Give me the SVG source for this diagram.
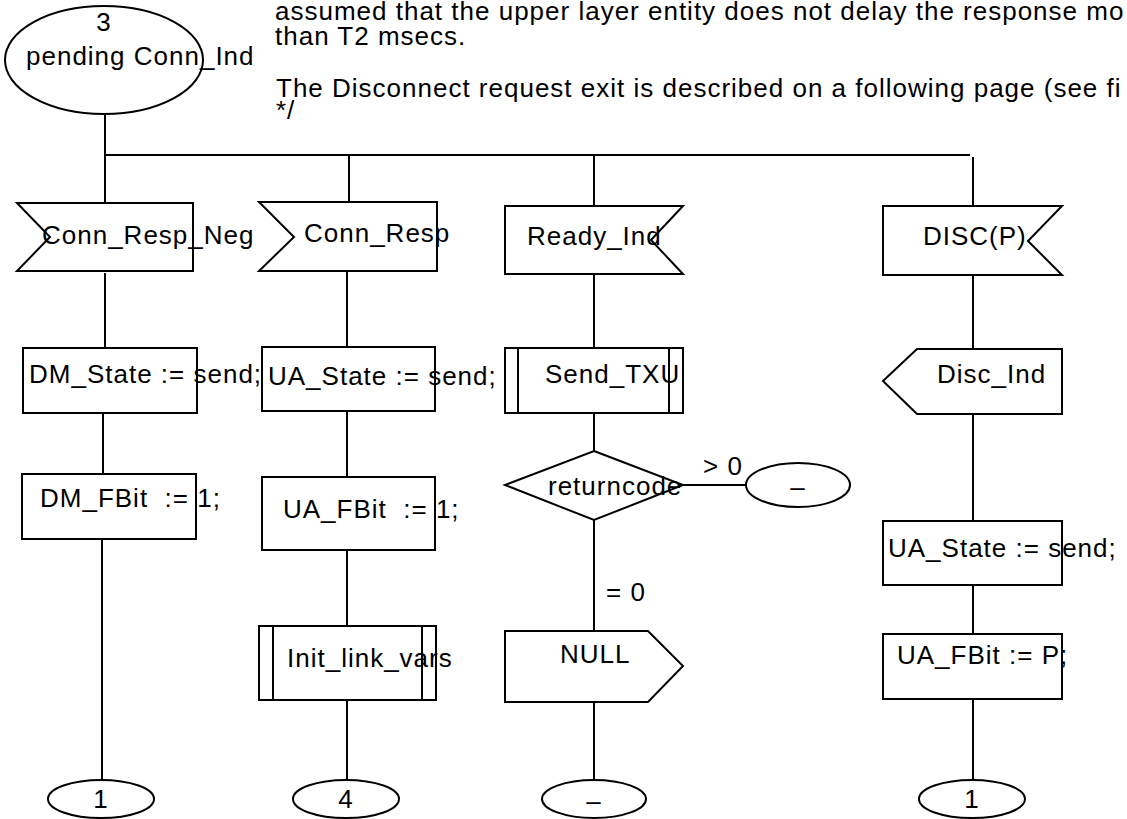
<svg xmlns="http://www.w3.org/2000/svg" width="1127" height="819" viewBox="0 0 1127 819">
<style>
.s{fill:#fff;stroke:#000;stroke-width:2}
.c{fill:none;stroke:#000;stroke-width:2}
text{font-family:"Liberation Sans",Arial,sans-serif;font-size:26px;letter-spacing:1px;fill:#000;white-space:pre}
.m{text-anchor:middle}
</style>
<rect width="1127" height="819" fill="#fff"/>
<g id="comment">
<text x="275" y="20">assumed that the upper layer entity does not delay the response mo</text>
<text x="275" y="45">than T2 msecs.</text>
<text x="276" y="97">The Disconnect request exit is described on a following page (see fi</text>
<text x="276" y="119">*/</text>
</g>
<g id="connectors" class="c">
<path d="M105,114 V203"/>
<path d="M105,155 H970"/>
<path d="M349,155 V202"/>
<path d="M594,155 V206"/>
<path d="M973,157 V206"/>
<path d="M105,273 V348"/>
<path d="M103,413 V474"/>
<path d="M102,539 V780"/>
<path d="M347,271 V347"/>
<path d="M347,411 V477"/>
<path d="M347,550 V626"/>
<path d="M347,700 V780"/>
<path d="M594,274 V348"/>
<path d="M594,413 V451"/>
<path d="M683,485 H746"/>
<path d="M594,520 V631"/>
<path d="M594,702 V780"/>
<path d="M973,275 V349"/>
<path d="M973,414 V521"/>
<path d="M973,585 V634"/>
<path d="M973,699 V780"/>
</g>
<g id="state3">
<ellipse class="s" cx="104" cy="60" rx="99" ry="54"/>
<text class="m" x="104" y="31">3</text>
<text x="26" y="65">pending Conn_Ind</text>
</g>
<g id="in_conn_resp_neg">
<polygon class="s" points="17,203 193,203 193,271 17,271 50,237"/>
<text x="42" y="244">Conn_Resp_Neg</text>
</g>
<g id="in_conn_resp">
<polygon class="s" points="259,202 437,202 437,271 259,271 294,237"/>
<text x="304" y="242">Conn_Resp</text>
</g>
<g id="in_ready_ind">
<polygon class="s" points="505,206 683,206 651,240 683,274 505,274"/>
<text x="527" y="245">Ready_Ind</text>
</g>
<g id="in_disc">
<polygon class="s" points="883,206 1062,206 1028,241 1062,275 883,275"/>
<text x="923" y="245">DISC(P)</text>
</g>
<g id="task_dm_state">
<rect class="s" x="23" y="348" width="174" height="65"/>
<text x="29" y="383">DM_State := send;</text>
</g>
<g id="task_dm_fbit">
<rect class="s" x="22" y="474" width="174" height="65"/>
<text x="40" y="507" xml:space="preserve">DM_FBit  := 1;</text>
</g>
<g id="task_ua_state">
<rect class="s" x="262" y="347" width="173" height="64"/>
<text x="268" y="385">UA_State := send;</text>
</g>
<g id="task_ua_fbit">
<rect class="s" x="262" y="477" width="173" height="73"/>
<text x="283" y="518" xml:space="preserve">UA_FBit  := 1;</text>
</g>
<g id="proc_init_link_vars">
<rect class="s" x="259" y="626" width="177" height="74"/>
<path class="c" d="M273,626 V700 M422,626 V700"/>
<text x="287" y="667">Init_link_vars</text>
</g>
<g id="proc_send_txu">
<rect class="s" x="505" y="348" width="178" height="65"/>
<path class="c" d="M518,348 V413 M669,348 V413"/>
<text x="545" y="383">Send_TXU</text>
</g>
<g id="dec_returncode">
<polygon class="s" points="594,451 683,485 594,520 505,485"/>
<text x="548" y="495">returncode</text>
</g>
<g id="labels">
<text x="703" y="475">&gt; 0</text>
<text x="606" y="601">= 0</text>
</g>
<g id="next_minus_right">
<ellipse class="s" cx="798" cy="485" rx="52" ry="22"/>
<text class="m" x="798" y="496">–</text>
</g>
<g id="out_null">
<polygon class="s" points="505,631 648,631 683,666 648,702 505,702"/>
<text x="560" y="663">NULL</text>
</g>
<g id="out_disc_ind">
<polygon class="s" points="883,381 917,349 1062,349 1062,414 917,414"/>
<text x="937" y="383">Disc_Ind</text>
</g>
<g id="task_ua_state2">
<rect class="s" x="883" y="521" width="179" height="64"/>
<text x="888" y="557">UA_State := send;</text>
</g>
<g id="task_ua_fbit2">
<rect class="s" x="883" y="634" width="179" height="65"/>
<text x="897" y="664">UA_FBit := P;</text>
</g>
<g id="join1_left">
<ellipse class="s" cx="101" cy="799" rx="53" ry="19"/>
<text class="m" x="101" y="808">1</text>
</g>
<g id="state4">
<ellipse class="s" cx="346" cy="799" rx="53" ry="19"/>
<text class="m" x="346" y="808">4</text>
</g>
<g id="next_minus_bottom">
<ellipse class="s" cx="594" cy="799" rx="52" ry="19"/>
<text class="m" x="594" y="810">–</text>
</g>
<g id="join1_right">
<ellipse class="s" cx="972" cy="799" rx="53" ry="19"/>
<text class="m" x="972" y="808">1</text>
</g>
</svg>
